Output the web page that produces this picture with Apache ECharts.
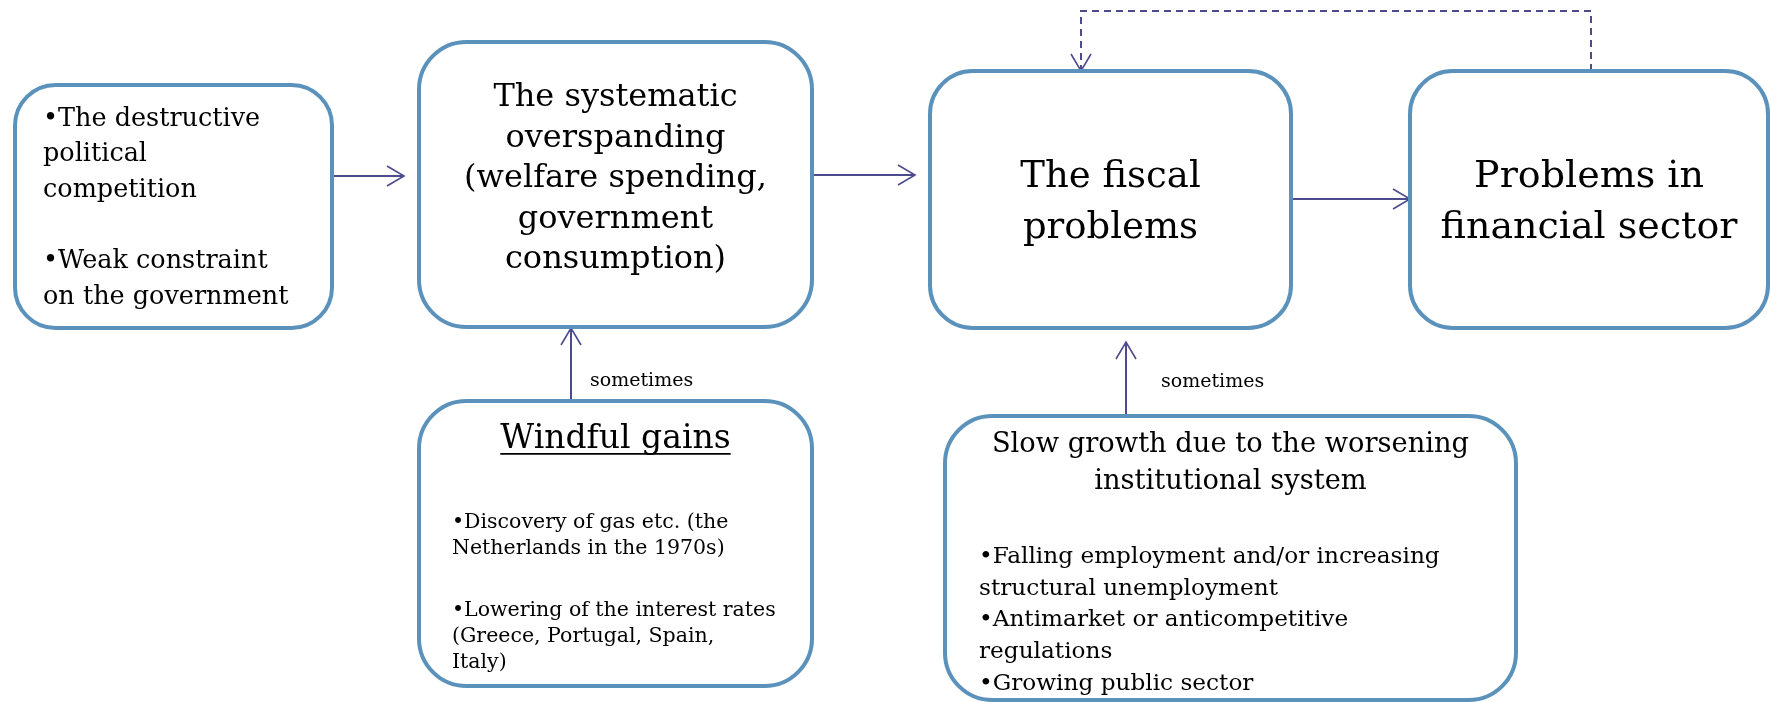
<!DOCTYPE html>
<html>
<head>
<meta charset="utf-8">
<script src="https://cdn.jsdelivr.net/npm/echarts@6/dist/echarts.min.js"></script>
<style>
html, body { margin: 0; padding: 0; background: #fff; }
#main { width: 1771px; height: 702px; }
</style>
</head>
<body>
<div id="main"></div>
<script>
// boxes of the diagram
var boxNames = ['causes', 'overspending', 'fiscal', 'financial', 'windfall', 'growth'];
var boxTitles = [
    [],
    ['The systematic', 'overspanding', '(welfare spending,', 'government', 'consumption)'],
    ['The fiscal', 'problems'],
    ['Problems in', 'financial sector'],
    ['Windful gains'],
    ['Slow growth due to the worsening', 'institutional system']
];
var boxBodies = [
    ['\u2022The destructive', 'political', 'competition', '', '\u2022Weak constraint', 'on the government'],
    [],
    [],
    [],
    ['\u2022Discovery of gas etc. (the', 'Netherlands in the 1970s)', '', '\u2022Lowering of the interest rates', '(Greece, Portugal, Spain,', 'Italy)'],
    ['\u2022Falling employment and/or increasing', 'structural unemployment', '\u2022Antimarket or anticompetitive', 'regulations', '\u2022Growing public sector']
];
// arrows: from -> to
var edgeFrom = ['causes', 'overspending', 'fiscal', 'windfall', 'growth', 'financial'];
var edgeTo = ['overspending', 'fiscal', 'financial', 'overspending', 'fiscal', 'fiscal'];
var edgeLabels = ['', '', '', 'sometimes', 'sometimes', ''];
var edgeDashed = [false, false, false, false, false, true];

// layout (pixel space of the hidden axes)
var FONT = '"DejaVu Serif", Georgia, serif';
var layout = {
    causes: { rect: [15, 85, 332, 328], bodyX: 43, bodyY: 119, bodyLH: 35.6, blank: 35.6, bodySize: 25.5 },
    overspending: { rect: [419, 42, 812, 327], titleY: 98, titleLH: 40.5, titleSize: 32 },
    fiscal: { rect: [930, 71, 1291, 328], titleY: 177, titleLH: 51, titleSize: 37 },
    financial: { rect: [1410, 71, 1768, 328], titleY: 177, titleLH: 51, titleSize: 38 },
    windfall: { rect: [419, 401, 812, 686], titleY: 439, titleLH: 40, titleSize: 33, underline: true,
        bodyX: 452, bodyY: 523, bodyLH: 26, blank: 36, bodySize: 20.5 },
    growth: { rect: [945, 416, 1516, 700], titleY: 445, titleLH: 37, titleSize: 27.3,
        bodyX: 979, bodyY: 557, bodyLH: 31.7, blank: 31.7, bodySize: 23.2 }
};
var edgePaths = [
    [[332, 176], [404, 176]],
    [[812, 175], [915, 175]],
    [[1291, 199], [1410, 199]],
    [[571, 401], [571, 328]],
    [[1126, 416], [1126, 342]],
    [[1591, 71], [1591, 11], [1081, 11], [1081, 71]]
];
var labelPos = [null, null, null, [590, 381], [1161, 382], null];

var borderColor = '#5B92BC';
var arrowColor = '#4C4C8C';

var chart = echarts.init(document.getElementById('main'));
var measureCtx = document.createElement('canvas').getContext('2d');

function renderBox(params, api) {
    var name = boxNames[params.dataIndex];
    var L = layout[name];
    var p0 = api.coord([L.rect[0], L.rect[1]]);
    var p1 = api.coord([L.rect[2], L.rect[3]]);
    var w = p1[0] - p0[0], h = p1[1] - p0[1];
    var r = Math.min(w, h) / 6;
    var children = [{
        type: 'rect',
        shape: { x: p0[0], y: p0[1], width: w, height: h, r: r },
        style: { fill: '#fff', stroke: borderColor, lineWidth: 4 }
    }];
    var cx = (p0[0] + p1[0]) / 2;
    var titles = boxTitles[params.dataIndex];
    titles.forEach(function(t, i) {
        var y = api.coord([0, L.titleY + i * L.titleLH])[1];
        children.push({
            type: 'text', x: cx, y: y,
            style: { text: t, font: L.titleSize + 'px ' + FONT, fill: '#000', align: 'center', verticalAlign: 'middle' }
        });
        // underlined heading
        if (L.underline) {
            measureCtx.font = L.titleSize + 'px ' + FONT;
            var tw = measureCtx.measureText(t).width;
            var uy = y + L.titleSize * 0.45;
            children.push({
                type: 'line',
                shape: { x1: cx - tw / 2, y1: uy, x2: cx + tw / 2, y2: uy },
                style: { stroke: '#000', lineWidth: 1.6 }
            });
        }
    });
    var body = boxBodies[params.dataIndex];
    var yy = L.bodyY;
    body.forEach(function(t) {
        if (t === '') { yy += L.blank; return; }
        var pt = api.coord([L.bodyX, yy]);
        children.push({
            type: 'text', x: pt[0], y: pt[1],
            style: { text: t, font: L.bodySize + 'px ' + FONT, fill: '#000', align: 'left', verticalAlign: 'middle' }
        });
        yy += L.bodyLH;
    });
    return { type: 'group', children: children };
}

function renderEdge(params, api) {
    var i = params.dataIndex;
    var pts = edgePaths[i].map(function(p) { return api.coord(p); });
    var tip = pts[pts.length - 1], prev = pts[pts.length - 2];
    var dx = tip[0] - prev[0], dy = tip[1] - prev[1];
    var len = Math.sqrt(dx * dx + dy * dy);
    dx /= len; dy /= len;
    var hl = 17, hw = 10;
    var head = [
        [tip[0] - dx * hl - dy * hw, tip[1] - dy * hl + dx * hw],
        tip,
        [tip[0] - dx * hl + dy * hw, tip[1] - dy * hl - dx * hw]
    ];
    var children = [{
        type: 'polyline',
        shape: { points: pts },
        style: { stroke: arrowColor, lineWidth: 2, fill: null, lineDash: edgeDashed[i] ? [7, 5] : null }
    }, {
        type: 'polyline',
        shape: { points: head },
        style: { stroke: arrowColor, lineWidth: 1.6, fill: null }
    }];
    if (edgeLabels[i]) {
        var lp = api.coord(labelPos[i]);
        children.push({
            type: 'text', x: lp[0], y: lp[1],
            style: { text: edgeLabels[i], font: '19px ' + FONT, fill: '#000', align: 'left', verticalAlign: 'middle' }
        });
    }
    return { type: 'group', children: children };
}

var option = {
    backgroundColor: '#fff',
    animation: false,
    grid: { left: 0, right: 0, top: 0, bottom: 0 },
    xAxis: { type: 'value', min: 0, max: 1771, show: false },
    yAxis: { type: 'value', min: 0, max: 702, inverse: true, show: false },
    series: [{
        type: 'custom',
        clip: false,
        renderItem: renderEdge,
        data: edgeFrom.map(function(f, i) { return [i, 0, f, edgeTo[i]]; })
    }, {
        type: 'custom',
        clip: false,
        renderItem: renderBox,
        data: boxNames.map(function(n, i) { return [i, 0, n]; })
    }]
};
chart.setOption(option);
</script>
</body>
</html>
